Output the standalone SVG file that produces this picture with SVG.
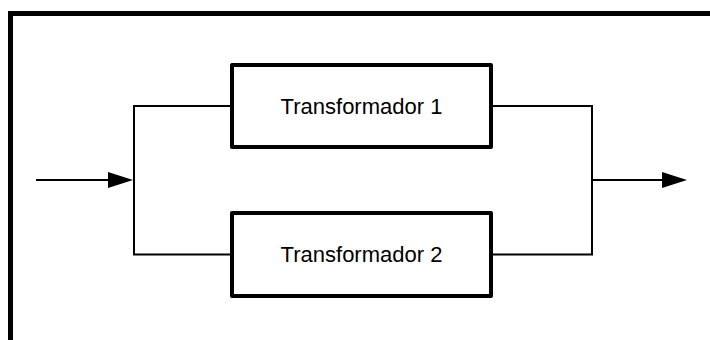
<svg xmlns="http://www.w3.org/2000/svg" width="710" height="340" viewBox="0 0 710 340">
<style>
.frame{fill:none;stroke:#000;stroke-width:5}
.box{fill:#fff;stroke:#000;stroke-width:4;stroke-linejoin:round}
.wire{fill:none;stroke:#000;stroke-width:2}
.label{font-family:"Liberation Sans",Arial,sans-serif;font-size:22px;fill:#000;text-anchor:middle}
</style>
<defs>
<marker id="arrow" markerUnits="userSpaceOnUse" markerWidth="26" markerHeight="18" refX="1" refY="8" orient="auto">
<path d="M0,0 L25,8 L0,16 Z" fill="#000"/>
</marker>
</defs>
<rect width="710" height="340" fill="#fff"/>
<path class="frame" d="M10.5,340 V13.5 H710"/>
<g id="connectors">
<path class="wire" d="M36,180 H109" marker-end="url(#arrow)"/>
<path class="wire" d="M232,106 H134 V254.5 H232"/>
<path class="wire" d="M491,106 H592 V254.5 H491"/>
<path class="wire" d="M592,180 H663" marker-end="url(#arrow)"/>
</g>
<g id="transformador1">
<rect class="box" x="232" y="65" width="259" height="82"/>
<text class="label" x="361.5" y="114">Transformador 1</text>
</g>
<g id="transformador2">
<rect class="box" x="232" y="213" width="259" height="83"/>
<text class="label" x="361.5" y="262">Transformador 2</text>
</g>
</svg>
